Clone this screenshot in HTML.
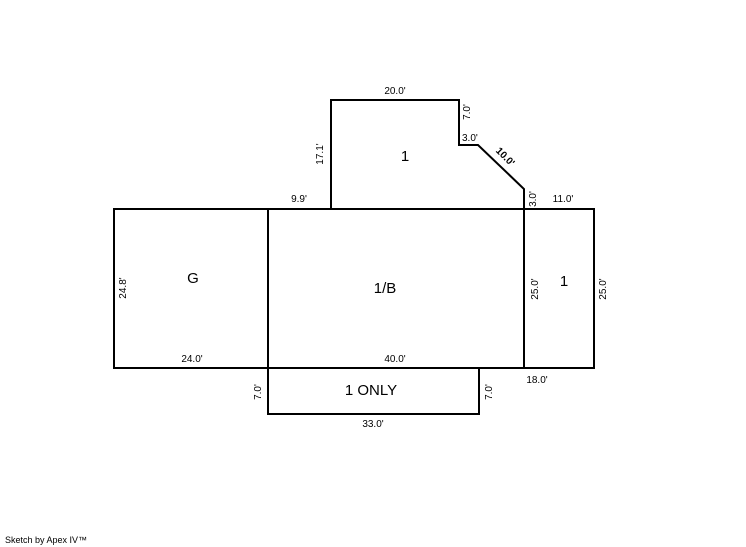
<!DOCTYPE html>
<html><head><meta charset="utf-8"><style>
html,body{margin:0;padding:0;background:#fff;}
svg{display:block;}
text{font-family:"Liberation Sans",Arial,sans-serif;fill:#000;}
.s{font-size:10px;}
.b{font-size:15px;}
</style></head><body>
<svg width="746" height="547" viewBox="0 0 746 547" xmlns="http://www.w3.org/2000/svg">
<g fill="none" stroke="#000" stroke-width="2">
<polyline points="331,209 331,100 459,100 459,145 478,145 524,189 524,209"/>
<rect x="114" y="209" width="480" height="159"/>
<line x1="268" y1="209" x2="268" y2="368"/>
<line x1="524" y1="209" x2="524" y2="368"/>
<rect x="268" y="368" width="211" height="46"/>
</g>
<text class="s" x="395" y="94" text-anchor="middle">20.0'</text>
<text class="s" transform="translate(470,112) rotate(-90)" text-anchor="middle">7.0'</text>
<text class="s" x="462" y="141">3.0'</text>
<text class="s" transform="translate(503,159) rotate(45)" text-anchor="middle" font-weight="bold">10.0'</text>
<text class="s" transform="translate(323,154) rotate(-90)" text-anchor="middle">17.1'</text>
<text class="b" x="405" y="161" text-anchor="middle">1</text>
<text class="s" x="299" y="202" text-anchor="middle">9.9'</text>
<text class="s" transform="translate(536,199) rotate(-90)" text-anchor="middle">3.0'</text>
<text class="s" x="563" y="202" text-anchor="middle">11.0'</text>
<text class="b" x="193" y="283" text-anchor="middle">G</text>
<text class="s" transform="translate(126,288) rotate(-90)" text-anchor="middle">24.8'</text>
<text class="s" x="192" y="362" text-anchor="middle">24.0'</text>
<text class="b" x="385" y="293" text-anchor="middle">1/B</text>
<text class="s" x="395" y="362" text-anchor="middle">40.0'</text>
<text class="s" transform="translate(538,289) rotate(-90)" text-anchor="middle">25.0'</text>
<text class="b" x="564" y="286" text-anchor="middle">1</text>
<text class="s" transform="translate(606,289) rotate(-90)" text-anchor="middle">25.0'</text>
<text class="s" x="537" y="383" text-anchor="middle">18.0'</text>
<text class="b" x="371" y="395" text-anchor="middle">1 ONLY</text>
<text class="s" transform="translate(261,392) rotate(-90)" text-anchor="middle">7.0'</text>
<text class="s" transform="translate(492,392) rotate(-90)" text-anchor="middle">7.0'</text>
<text class="s" x="373" y="427" text-anchor="middle">33.0'</text>
<text x="5" y="543" style="font-size:9px">Sketch by Apex IV™</text>
</svg>
</body></html>
